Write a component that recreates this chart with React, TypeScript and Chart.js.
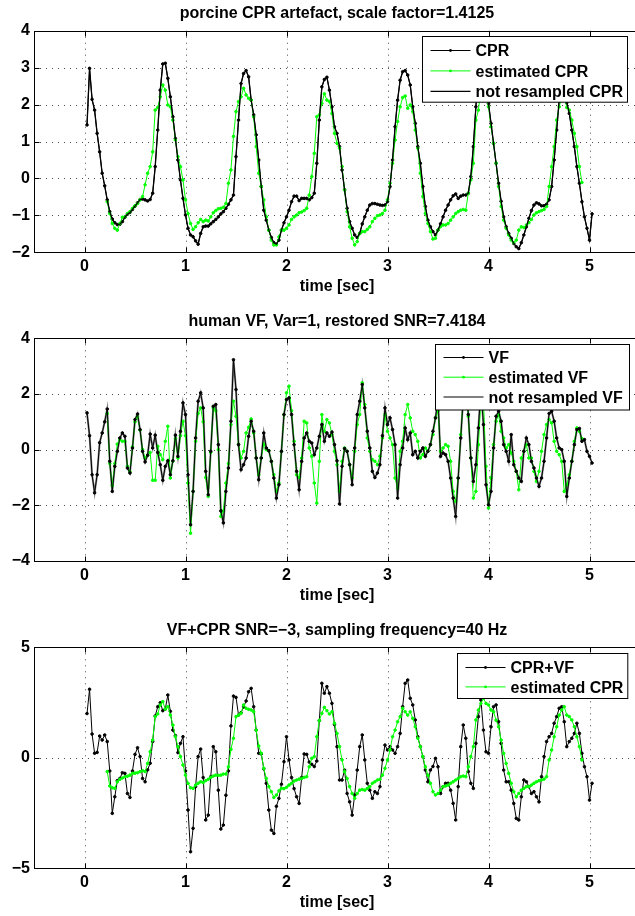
import React, { useEffect, useRef } from "react";
import { Chart, registerables } from "chart.js";

Chart.register(...registerables);

// ---------------- data ----------------
const SAMPLE_RATE_HZ = 40;
const SIGNAL_FIRST_SAMPLE = 1; // first sample index (t = 1/40 s)
const ESTIMATE_FIRST_SAMPLE = 9; // estimates start at t = 9/40 s

const xTicks = [0, 1, 2, 3, 4, 5];
const xRange = [-0.5, 5.5];

// panel 1: porcine CPR artefact
const cprSignal = [
  1.45, 2.98, 2.14, 1.85, 1.22, 0.72, 0.14, -0.2, -0.58, -0.9,
  -1.1, -1.2, -1.25, -1.24, -1.17, -1.05, -0.97, -0.92, -0.84, -0.75,
  -0.66, -0.57, -0.56, -0.58, -0.61, -0.57, -0.4, 0.32, 1.31, 2.39,
  3.1, 3.12, 2.71, 2.21, 1.67, 1.08, 0.5, -0.04, -0.54, -0.99,
  -1.35, -1.53, -1.58, -1.69, -1.78, -1.49, -1.31, -1.29, -1.29, -1.23,
  -1.17, -1.11, -1.04, -0.96, -0.9, -0.81, -0.7, -0.58, -0.45, 0.59,
  1.58, 2.57, 2.84, 2.92, 2.75, 2.12, 1.72, 1.18, 0.5, -0.22,
  -0.86, -1.13, -1.4, -1.6, -1.74, -1.78, -1.67, -1.4, -1.2, -1.04,
  -0.86, -0.63, -0.48, -0.48, -0.6, -0.54, -0.54, -0.54, -0.58, -0.52,
  -0.4, 0.41, 1.58, 2.48, 2.68, 2.74, 2.39, 1.94, 1.4, 1.22,
  0.86, 0.23, -0.31, -0.81, -1.17, -1.35, -1.53, -1.6, -1.49, -1.23,
  -1.04, -0.86, -0.72, -0.68, -0.68, -0.7, -0.72, -0.73, -0.72, -0.63,
  -0.22, 0.5, 1.4, 2.12, 2.66, 2.89, 2.92, 2.8, 2.53, 1.94,
  1.49, 0.86, 0.41, -0.22, -0.76, -1.13, -1.31, -1.44, -1.53, -1.4,
  -1.23, -1.04, -0.86, -0.72, -0.58, -0.47, -0.42, -0.54, -0.48, -0.45,
  -0.45, -0.4, 0.05, 0.86, 1.94, 2.93, 3.05, 3.0, 2.48, 2.03,
  1.49, 0.95, 0.41, -0.13, -0.62, -1.04, -1.31, -1.49, -1.62, -1.76,
  -1.85, -1.9, -1.74, -1.53, -1.31, -1.08, -0.87, -0.72, -0.66, -0.69,
  -0.74, -0.74, -0.7, -0.58, -0.22, 0.5, 1.31, 2.12, 2.6, 2.65,
  2.05, 1.76, 1.31, 0.86, 0.32, -0.13, -0.63, -1.04, -1.35, -1.67,
  -0.96,
];
const cprEstimate = [
  -0.63, -0.95,
  -1.22, -1.35, -1.4, -1.22, -1.05, -1.04, -0.95, -0.9, -0.81, -0.74,
  -0.68, -0.58, -0.49, -0.17, 0.14, 0.32, 0.72, 1.85, 1.92, 2.21,
  2.53, 2.39, 1.99, 1.94, 1.58, 1.04, 0.59, 0.32, -0.04, -0.58,
  -0.95, -1.22, -1.38, -1.31, -1.2, -1.11, -1.17, -1.13, -1.15, -1.04,
  -0.93, -0.87, -0.82, -0.81, -0.78, -0.68, -0.13, 0.23, 1.14, 1.81,
  2.08, 2.21, 2.44, 2.26, 2.17, 2.12, 1.67, 0.86, 0.14, -0.22,
  -0.58, -1.04, -1.4, -1.67, -1.8, -1.8, -1.58, -1.4, -1.4, -1.35,
  -1.26, -1.11, -1.04, -0.99, -0.93, -0.91, -0.87, -0.81, -0.45, 0.05,
  0.68, 1.67, 1.72, 2.03, 2.29, 2.12, 2.08, 1.76, 1.22, 0.95,
  0.82, 0.32, -0.31, -0.9, -1.31, -1.62, -1.8, -1.71, -1.49, -1.44,
  -1.44, -1.38, -1.31, -1.17, -1.08, -1.01, -0.99, -0.95, -0.86, -0.58,
  -0.13, 0.41, 1.04, 1.54, 1.94, 2.19, 2.23, 1.9, 1.99, 1.81,
  1.31, 0.82, 0.14, -0.49, -0.95, -1.22, -1.44, -1.64, -1.62, -1.4,
  -1.31, -1.26, -1.26, -1.22, -1.13, -1.04, -0.95, -0.9, -0.86, -0.84,
  -0.86, -0.4, -0.04, 0.41, 1.58, 1.85, 2.4, 2.5, 2.3, 1.94,
  1.4, 0.95, 0.41, -0.22, -0.76, -1.13, -1.35, -1.53, -1.67, -1.74,
  -1.67, -1.4, -1.31, -1.33, -1.26, -1.2, -1.11, -0.99, -0.93, -0.9,
  -0.87, -0.84, -0.76, -0.22, 0.32, 0.86, 1.58, 1.94, 2.2, 2.3,
  1.92, 1.85, 1.58, 1.22, 0.86, 0.32, -0.11,
];

// panel 2: human VF
const vfSignal = [
  1.32, 0.5, -0.9, -1.55, -0.9, 0.25, 0.6, 1.0, 1.46, -0.42,
  -1.5, -0.6, -0.06, 0.42, 0.6, 0.48, -0.66, -0.84, 0.06, 1.08,
  1.28, 0.72, -0.06, -0.44, -0.2, 0.56, 0.06, 0.52, -0.1, -0.54,
  -1.1, -0.6, -0.4, -0.9, -0.4, 0.52, -0.24, 0.66, 1.68, 1.26,
  -0.9, -2.7, -1.5, 0.42, 1.74, 2.04, 1.5, -0.78, -1.62, -0.06,
  1.56, 1.62, 0.18, -2.2, -2.63, -1.5, -0.66, 1.02, 3.23, 2.16,
  0.18, -0.72, -0.54, -0.3, 0.48, 1.02, 0.66, -0.3, -1.08, -0.3,
  0.6, 0.06, -0.04, -0.42, -1.02, -1.74, -1.26, -0.06, 1.26, 1.8,
  1.86, 1.26, 0.18, -0.78, -1.44, -0.42, 0.42, 0.6, 0.3, 0.24,
  -0.18, 0.06, 0.48, 0.9, 0.3, 0.6, 0.48, 0.63, 0.18, -0.4,
  -1.95, -0.6, 0.04, -0.06, -0.54, -1.26, 0.06, 1.26, 1.74, 2.34,
  1.5, 0.66, 0.06, -0.78, -1.0, -0.84, -0.54, 0.5, 1.5, 0.9,
  1.14, 0.72, 0.18, -1.74, -0.54, 0.06, 0.78, 0.36, 0.6, -0.18,
  -0.06, -0.3, -0.06, 0.06, -0.24, -0.06, 0.18, 0.66, 1.14, 1.8,
  -0.24, -0.12, -0.18, -0.42, -1.02, -1.74, -2.4, -1.02, 0.42, 1.86,
  2.6, 1.26, -0.3, -1.14, -0.54, 0.78, 2.2, 0.9, -1.26, -1.98,
  -1.5, 0.06, 1.2, 1.38, 1.02, 0.18, -0.06, -0.42, 0.54, -0.54,
  -0.78, -1.02, -1.14, -0.06, 0.42, 0.18, -0.42, -0.66, -1.02, -1.32,
  -1.02, -0.42, 0.42, 1.3, 1.38, 1.02, 0.42, 0.06, 0.0, -0.42,
  -1.68, -1.02, -0.42, 0.18, 0.72, 0.76, 0.3, 0.36, -0.06, -0.24,
  -0.48,
];
const vfEstimate = [
  1.3, -0.5,
  -1.3, -0.5, 0.2, 0.36, 0.3, 0.3, -0.6, -0.8, 0.1, 1.0,
  1.2, 0.7, 0.0, -0.3, -0.2, -0.1, -1.1, -1.1, 0.12, -0.18,
  -0.36, 0.3, 0.84, -1.02, -0.42, 0.4, -0.3, 0.5, 1.02, 0.5,
  -1.2, -3.0, -1.5, 0.3, 1.3, 1.5, 1.0, -1.0, -1.68, -0.1,
  1.5, 1.4, 0.0, -2.4, -2.2, -1.2, -0.5, 0.9, 1.74, 1.2,
  0.2, -0.3, -0.06, 0.6, 0.8, 1.1, 0.6, -0.3, -0.9, -0.3,
  0.2, 0.0, -0.04, -0.42, -0.9, -1.5, -1.2, -0.06, 1.26, 2.04,
  2.28, 1.4, 0.3, -0.9, -1.0, -0.3, 1.02, 0.96, 0.06, -0.24,
  -1.2, -1.92, -0.42, 1.26, 0.66, 1.08, 0.96, 0.54, -0.06, -0.54,
  -1.5, -0.42, 0.06, -0.06, -0.54, -1.02, -0.06, 0.9, 1.26, 2.4,
  1.62, 0.42, -0.06, -0.36, -0.42, -0.54, -0.24, 0.42, 1.26, 0.66,
  0.42, 0.18, -1.02, -1.38, -0.06, 0.3, 1.26, 1.62, 1.14, 0.66,
  0.54, 0.3, -0.3, -0.18, 0.06, -0.06, 0.18, 0.54, 1.14, 1.38,
  -0.06, 0.06, 0.18, 0.12, -0.42, -1.5, -1.86, -1.02, 0.54, 1.8,
  2.4, 1.2, -0.3, -1.74, -1.5, 0.18, 1.8, 1.8, -0.6, -2.1,
  -1.02, 0.18, 1.02, 1.26, 0.66, 0.42, 0.06, 0.18, -0.12, -0.42,
  -0.78, -1.44, -0.3, -0.06, 0.18, -0.3, -0.3, -0.78, -1.14, -0.78,
  -0.06, 0.54, 0.9, 1.08, 0.96, 0.3, -0.06, -0.18, -0.42, -1.5,
  -1.26, -0.9, -0.42, 0.3, 0.78, 0.66, 0.4,
];

// panel 3: VF + CPR mixture
const mixSignal = [
  2.0, 3.1, 1.07, 0.2, 0.24, 0.98, 0.8, 1.03, 0.73, -0.6,
  -2.52, -1.77, -1.04, -0.94, -0.68, -0.71, -1.62, -1.8, -0.6, 0.15,
  0.45, 0.05, -0.94, -1.09, -0.55, -0.25, 0.73, 1.89, 2.31, 2.49,
  2.13, 2.2, 2.84, 2.1, 1.25, 1.0, 0.23, 0.65, 0.95, -0.6,
  -2.37, -4.26, -3.2, -1.31, 0.05, 0.39, -0.9, -2.82, -2.6, -0.86,
  0.5, 0.27, -1.47, -3.23, -3.05, -1.7, -0.6, 1.44, 2.79, 2.73,
  1.93, 2.04, 2.3, 2.57, 2.99, 3.14, 2.31, 1.25, 0.2, 0.17,
  -0.5, -1.16, -2.37, -3.28, -3.43, -2.2, -1.84, -1.2, -0.18, 0.95,
  -0.1, -0.9, -1.4, -1.77, -2.07, -0.9, 0.17, 0.15, -0.2, -0.3,
  -0.4, -0.15, 1.68, 3.37, 2.92, 3.22, 2.92, 2.46, 1.5, 0.5,
  -1.01, -1.01, -0.56, -1.62, -2.0, -2.6, -1.69, -0.56, 0.5, 1.03,
  -0.1, -1.16, -1.47, -1.84, -1.54, -1.62, -1.31, -0.1, 0.57, 0.35,
  0.5, 0.35, 0.2, 0.5, 1.1, 2.31, 3.37, 3.52, 2.69, 2.39,
  1.71, 0.95, 0.5, 0.05, -0.56, -1.09, -0.56, -0.4, -0.03, -0.41,
  -1.62, -1.31, -1.16, -1.16, -1.47, -2.07, -2.82, -1.31, 0.5, 1.48,
  0.88, -0.63, -1.16, -1.39, 0.65, 1.86, 2.61, 1.25, 0.27, 0.2,
  1.4, 2.31, 2.39, 1.63, 0.65, -0.56, -1.09, -1.09, -1.47, -2.07,
  -2.75, -2.82, -1.77, -1.01, -1.09, -1.31, -1.62, -1.54, -1.77, -2.0,
  -0.86, 0.05, 0.73, 0.95, 1.1, 1.56, 1.86, 2.24, 2.31, 1.63,
  0.5, 0.73, 0.88, 1.1, 1.56, 1.1, 0.2, -0.41, -0.86, -1.92,
  -1.16,
];
const mixEstimate = [
  -0.63, -1.28,
  -1.36, -1.39, -1.09, -0.98, -0.92, -0.86, -0.84, -0.79, -0.71, -0.7,
  -0.68, -0.63, -0.59, -0.63, -0.26, 0.27, 0.8, 1.86, 1.98, 2.39,
  2.54, 2.2, 2.31, 1.93, 1.48, 0.95, 0.5, 0.05, -0.33, -0.79,
  -1.16, -1.36, -1.39, -1.24, -1.16, -1.09, -1.13, -1.04, -0.98, -0.89,
  -0.83, -0.79, -0.8, -0.79, -0.74, -0.74, -0.41, 0.38, 0.88, 1.86,
  1.93, 2.01, 2.39, 2.24, 2.19, 2.16, 2.08, 1.25, 0.53, 0.2,
  -0.48, -0.94, -1.31, -1.54, -1.8, -1.69, -1.5, -1.39, -1.4, -1.34,
  -1.24, -1.16, -1.06, -1.01, -0.97, -0.94, -0.89, -0.86, -0.41, -0.03,
  0.05, 0.95, 1.68, 2.01, 2.28, 2.13, 1.98, 2.08, 1.56, 1.1,
  0.5, -0.1, -0.63, -0.94, -1.31, -1.62, -1.84, -1.62, -1.47, -1.44,
  -1.47, -1.39, -1.31, -1.16, -1.09, -1.01, -0.98, -0.79, -0.48, -0.1,
  0.35, 0.95, 1.25, 1.63, 1.86, 2.24, 2.08, 1.93, 2.08, 1.78,
  1.4, 0.88, 0.5, 0.05, -0.41, -0.79, -1.16, -1.54, -1.69, -1.62,
  -1.47, -1.31, -1.28, -1.24, -1.16, -1.09, -1.01, -0.94, -0.86, -0.83,
  -0.86, -0.41, 0.05, 0.5, 1.71, 2.16, 2.46, 2.69, 2.46, 2.39,
  2.16, 2.08, 1.7, 1.4, 0.8, 0.2, -0.26, -0.71, -1.16, -1.54,
  -1.77, -1.62, -1.47, -1.39, -1.31, -1.31, -1.24, -1.16, -1.09, -1.04,
  -1.01, -0.97, -0.86, -0.1, 0.35, 0.95, 1.4, 1.93, 2.16, 2.31,
  1.93, 1.86, 1.71, 1.4, 0.95, 0.5, -0.1,
];

const titles = [
  "porcine CPR artefact, scale factor=1.4125",
  "human VF, Var=1, restored SNR=7.4184",
  "VF+CPR SNR=\u22123, sampling frequency=40 Hz",
];
const xAxisLabel = "time [sec]";
const legendCPR = ["CPR", "estimated CPR", "not resampled CPR"];
const legendVF = ["VF", "estimated VF", "not resampled VF"];
const legendMix = ["CPR+VF", "estimated CPR"];

const yTicks1 = [-2, -1, 0, 1, 2, 3, 4];
const yTicks2 = [-4, -2, 0, 2, 4];
const yTicks3 = [-5, 0, 5];

// ---------------- styling ----------------
const FONT_FAMILY = '"Liberation Sans", Arial, Helvetica, sans-serif';
const FONT = `bold 16px ${FONT_FAMILY}`;
const GREEN = "#00ff00";
const GRAY = "#808080";
const GRID_COLOR = "#4a4a4a";
const CANVAS_W = 660;
const AXIS_LEFT = 34;
const AXIS_RIGHT = 640;

const toPoints = (values: number[], first: number) =>
  values.map((v, i) => ({ x: (first + i) / SAMPLE_RATE_HZ, y: v }));

const fmt = (v: number) => (v < 0 ? "\u2212" + Math.abs(v) : String(v));

type LegendRow = { label: string; color: string; marker: boolean; width: number };
type PanelSpec = {
  top: number;
  height: number;
  areaTop: number;
  areaBottom: number;
  yMin: number;
  yMax: number;
  yTicks: number[];
  title: string;
  legend: { right: number; top: number; width: number; height: number; firstRow: number; rowGap: number; rows: LegendRow[] };
  datasets: any[];
};

function makeFramePlugin(spec: PanelSpec) {
  return {
    id: "matlabFrame",
    beforeDatasetsDraw(chart: any) {
      const { ctx, chartArea: a, scales } = chart;
      ctx.save();
      ctx.strokeStyle = GRID_COLOR;
      ctx.lineWidth = 1;
      ctx.setLineDash([1, 5]);
      for (const v of xTicks) {
        const px = Math.round(scales.x.getPixelForValue(v)) + 0.5;
        ctx.beginPath();
        ctx.moveTo(px, a.top);
        ctx.lineTo(px, a.bottom);
        ctx.stroke();
      }
      for (const v of spec.yTicks) {
        if (v === spec.yMin || v === spec.yMax) continue;
        const py = Math.round(scales.y.getPixelForValue(v)) + 0.5;
        ctx.beginPath();
        ctx.moveTo(a.left, py);
        ctx.lineTo(a.right, py);
        ctx.stroke();
      }
      ctx.restore();
    },
    afterDatasetsDraw(chart: any) {
      const { ctx, chartArea: a, scales } = chart;
      ctx.save();
      ctx.setLineDash([]);
      ctx.strokeStyle = "#000";
      ctx.lineWidth = 1;
      const L = Math.round(a.left) + 0.5;
      const T = Math.round(a.top) + 0.5;
      const B = Math.round(a.bottom) + 0.5;
      const R = Math.round(a.right) + 0.5;
      // inner tick marks
      const TL = 5;
      ctx.beginPath();
      for (const v of xTicks) {
        const px = Math.round(scales.x.getPixelForValue(v)) + 0.5;
        ctx.moveTo(px, B);
        ctx.lineTo(px, B - TL);
        ctx.moveTo(px, T);
        ctx.lineTo(px, T + TL);
      }
      for (const v of spec.yTicks) {
        const py = Math.round(scales.y.getPixelForValue(v)) + 0.5;
        ctx.moveTo(L, py);
        ctx.lineTo(L + TL, py);
        ctx.moveTo(R, py);
        ctx.lineTo(R - TL, py);
      }
      ctx.stroke();
      // axes box
      ctx.strokeRect(L, T, R - L, B - T);

      // legend
      const lg = spec.legend;
      const lx = Math.round(a.right - lg.right - lg.width) + 0.5;
      const ly = Math.round(a.top + lg.top) + 0.5;
      ctx.fillStyle = "#fff";
      ctx.fillRect(lx, ly, lg.width, lg.height);
      ctx.strokeStyle = "#000";
      ctx.lineWidth = 1;
      ctx.strokeRect(lx, ly, lg.width, lg.height);
      ctx.font = FONT;
      ctx.textAlign = "left";
      ctx.textBaseline = "alphabetic";
      lg.rows.forEach((row, i) => {
        const ry = ly + lg.firstRow + i * lg.rowGap;
        ctx.strokeStyle = row.color;
        ctx.lineWidth = row.width;
        ctx.beginPath();
        ctx.moveTo(lx + 8, ry);
        ctx.lineTo(lx + 48, ry);
        ctx.stroke();
        if (row.marker) {
          ctx.fillStyle = row.color;
          ctx.beginPath();
          ctx.arc(lx + 28, ry, 1.4, 0, Math.PI * 2);
          ctx.fill();
        }
        ctx.fillStyle = "#000";
        ctx.fillText(row.label, lx + 53, ry + 5.8);
      });

      // title and x label
      const cx = (a.left + a.right) / 2;
      ctx.fillStyle = "#000";
      ctx.textAlign = "center";
      ctx.fillText(spec.title, cx, a.top - 12.6);
      ctx.fillText(xAxisLabel, cx, a.bottom + 38.5);
      ctx.restore();
    },
  };
}

function buildChart(canvas: HTMLCanvasElement, spec: PanelSpec) {
  return new Chart(canvas, {
    type: "line",
    data: { datasets: spec.datasets },
    plugins: [makeFramePlugin(spec)],
    options: {
      animation: false,
      responsive: false,
      devicePixelRatio: 1,
      events: [],
      layout: { padding: { top: spec.areaTop, bottom: 0, left: 0, right: CANVAS_W - AXIS_RIGHT } },
      plugins: { legend: { display: false }, title: { display: false }, tooltip: { enabled: false } },
      elements: { line: { tension: 0 }, point: { borderWidth: 0, hoverRadius: 0 } },
      scales: {
        x: {
          type: "linear",
          min: xRange[0],
          max: xRange[1],
          afterBuildTicks: (s: any) => {
            s.ticks = xTicks.map((v) => ({ value: v }));
          },
          afterFit: (s: any) => {
            s.height = spec.height - spec.areaBottom;
          },
          grid: { display: false, drawTicks: false },
          border: { display: false },
          ticks: {
            padding: 5,
            color: "#000",
            maxRotation: 0,
            autoSkip: false,
            font: { family: FONT_FAMILY, size: 16, weight: "bold" },
            callback: (v: any) => fmt(Number(v)),
          },
        },
        y: {
          type: "linear",
          min: spec.yMin,
          max: spec.yMax,
          afterBuildTicks: (s: any) => {
            s.ticks = spec.yTicks.map((v) => ({ value: v }));
          },
          afterFit: (s: any) => {
            s.width = AXIS_LEFT;
          },
          grid: { display: false, drawTicks: false },
          border: { display: false },
          ticks: {
            padding: 4,
            color: "#000",
            autoSkip: false,
            font: { family: FONT_FAMILY, size: 16, weight: "bold" },
            callback: (v: any) => fmt(Number(v)),
          },
        },
      },
    } as any,
  });
}

const dotted = (label: string, values: number[], first: number, color: string, order: number) => ({
  label,
  data: toPoints(values, first),
  borderColor: color,
  backgroundColor: color,
  pointBackgroundColor: color,
  borderWidth: 1,
  pointRadius: 1.3,
  order,
});
const plain = (label: string, values: number[], first: number, color: string, order: number, width: number) => ({
  label,
  data: toPoints(values, first),
  borderColor: color,
  backgroundColor: color,
  borderWidth: width,
  pointRadius: 0,
  order,
});

const panels: PanelSpec[] = [
  {
    top: 0,
    height: 305,
    areaTop: 30.7,
    areaBottom: 252.3,
    yMin: -2,
    yMax: 4,
    yTicks: yTicks1,
    title: titles[0],
    legend: {
      right: 13, top: 5.3, width: 205, height: 65.7, firstRow: 14, rowGap: 20.4,
      rows: [
        { label: legendCPR[0], color: "#000", marker: true, width: 1 },
        { label: legendCPR[1], color: GREEN, marker: true, width: 1 },
        { label: legendCPR[2], color: "#000", marker: false, width: 1.2 },
      ],
    },
    datasets: [
      dotted(legendCPR[0], cprSignal, SIGNAL_FIRST_SAMPLE, "#000", 3),
      dotted(legendCPR[1], cprEstimate, ESTIMATE_FIRST_SAMPLE, GREEN, 2),
      plain(legendCPR[2], cprSignal, SIGNAL_FIRST_SAMPLE, "#000", 1, 1.3),
    ],
  },
  {
    top: 305,
    height: 300,
    areaTop: 33.3,
    areaBottom: 256,
    yMin: -4,
    yMax: 4,
    yTicks: yTicks2,
    title: titles[1],
    legend: {
      right: 11, top: 6, width: 194, height: 65.5, firstRow: 13, rowGap: 19.7,
      rows: [
        { label: legendVF[0], color: "#000", marker: true, width: 1 },
        { label: legendVF[1], color: GREEN, marker: true, width: 1 },
        { label: legendVF[2], color: GRAY, marker: false, width: 2 },
      ],
    },
    datasets: [
      dotted(legendVF[0], vfSignal, SIGNAL_FIRST_SAMPLE, "#000", 1),
      dotted(legendVF[1], vfEstimate, ESTIMATE_FIRST_SAMPLE, GREEN, 2),
      plain(legendVF[2], vfSignal, SIGNAL_FIRST_SAMPLE, GRAY, 3, 2),
    ],
  },
  {
    top: 605,
    height: 311,
    areaTop: 42.3,
    areaBottom: 263.1,
    yMin: -5,
    yMax: 5,
    yTicks: yTicks3,
    title: titles[2],
    legend: {
      right: 13, top: 6, width: 170.3, height: 45, firstRow: 14, rowGap: 19.4,
      rows: [
        { label: legendMix[0], color: "#000", marker: true, width: 1 },
        { label: legendMix[1], color: GREEN, marker: true, width: 1 },
      ],
    },
    datasets: [
      dotted(legendMix[0], mixSignal, SIGNAL_FIRST_SAMPLE, "#000", 2),
      dotted(legendMix[1], mixEstimate, ESTIMATE_FIRST_SAMPLE, GREEN, 1),
    ],
  },
];

function Panel({ spec }: { spec: PanelSpec }) {
  const ref = useRef<HTMLCanvasElement | null>(null);
  useEffect(() => {
    if (!ref.current) return;
    const chart = buildChart(ref.current, spec);
    return () => chart.destroy();
  }, [spec]);
  return (
    <canvas
      ref={ref}
      width={CANVAS_W}
      height={spec.height}
      style={{ position: "absolute", left: 0, top: spec.top, width: CANVAS_W, height: spec.height }}
    />
  );
}

export default function App() {
  return (
    <div
      style={{
        position: "absolute",
        left: 0,
        top: 0,
        width: 635,
        height: 916,
        overflow: "hidden",
        background: "#fff",
      }}
    >
      {panels.map((p, i) => (
        <Panel key={i} spec={p} />
      ))}
    </div>
  );
}
